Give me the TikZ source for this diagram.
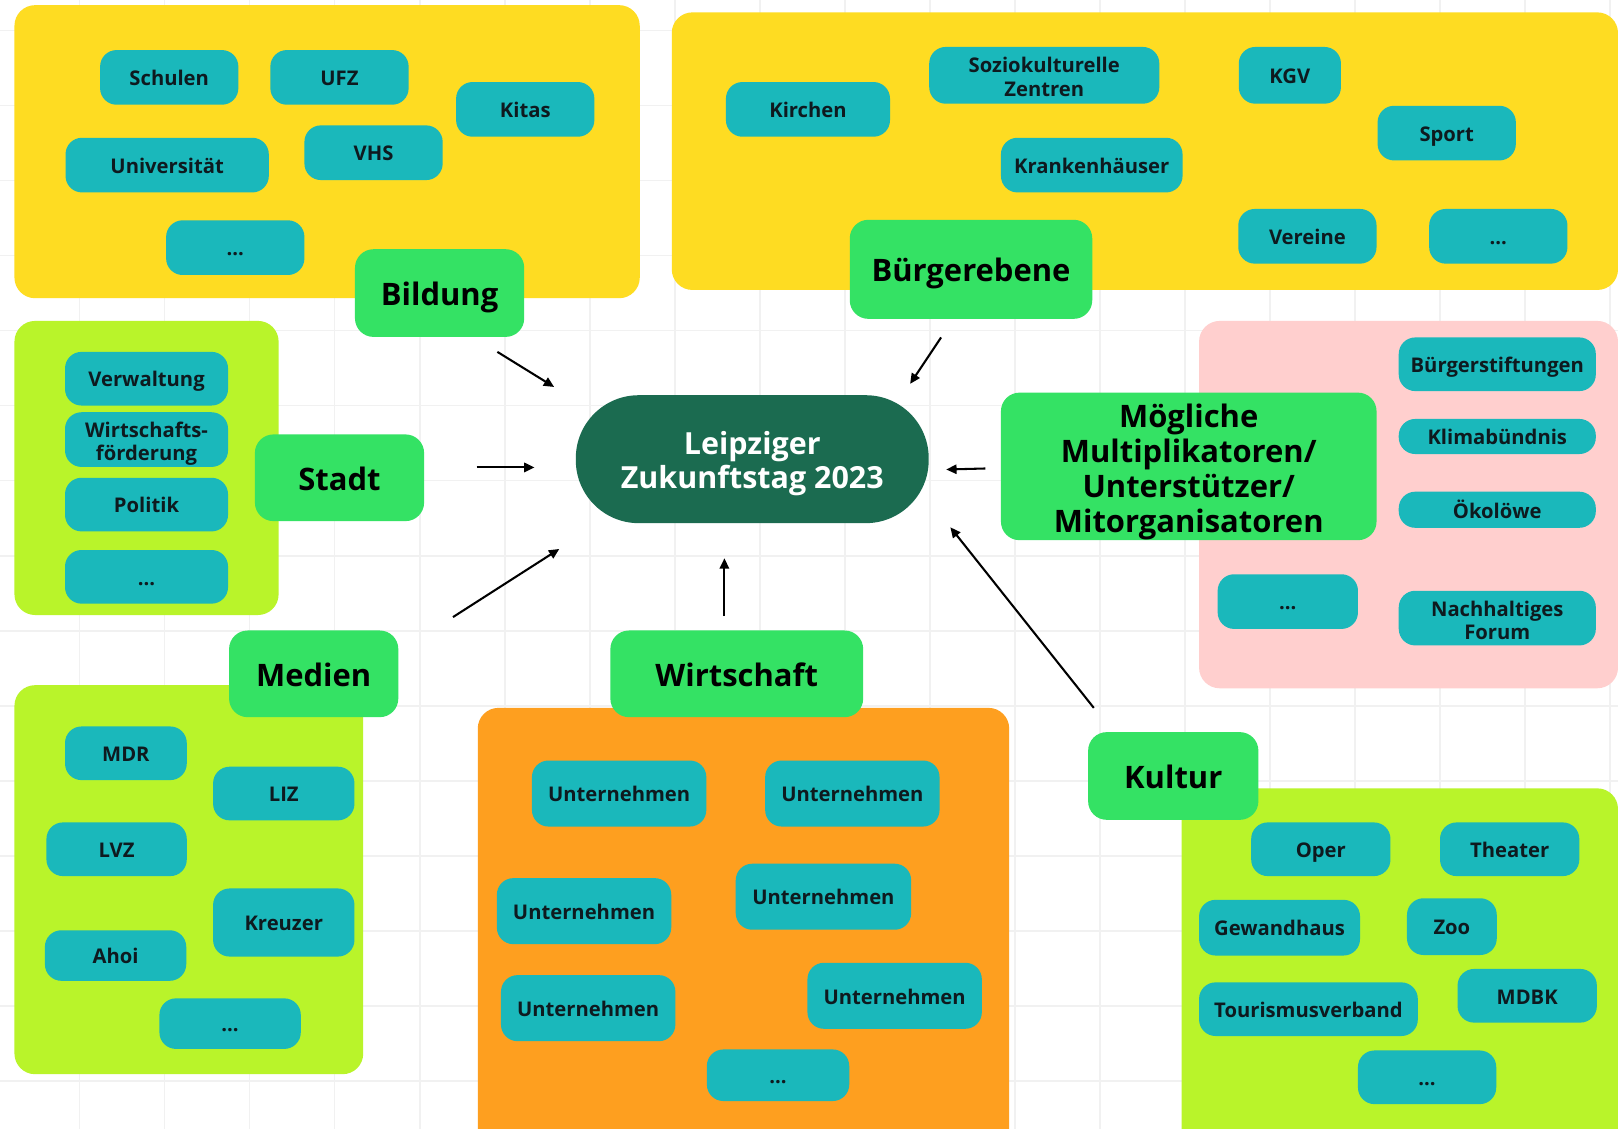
\documentclass[tikz,border=0pt]{standalone}
\usepackage{fontspec}
\setmainfont{Open Sans}
\usetikzlibrary{arrows.meta}
\definecolor{yel}{HTML}{FEDC22}
\definecolor{limebg}{HTML}{B9F42A}
\definecolor{pinkbg}{HTML}{FFCFCE}
\definecolor{orng}{HTML}{FE9F1F}
\definecolor{grn}{HTML}{34E264}
\definecolor{tealbox}{HTML}{1AB8BB}
\definecolor{dkgrn}{HTML}{1B6B50}
\definecolor{txt}{HTML}{0E1A1F}
\definecolor{gridc}{HTML}{F1F1F1}
\tikzset{
  tbox/.style={fill=tealbox, rounded corners=16pt, inner sep=0pt, align=center, text=txt,
    minimum width=134pt, minimum height=53pt, font=\bfseries\fontsize{19.6}{22.5}\selectfont},
  one/.style={text height=16pt, text depth=0pt},
  cat/.style={fill=grn, rounded corners=18pt, inner sep=0pt, align=center, text=black,
    font=\bfseries\fontsize{30}{34}\selectfont},
  catone/.style={text height=24pt, text depth=0pt},
  region/.style={rounded corners=20pt},
  conn/.style={line width=2pt, -{Triangle[length=10pt,width=9pt]}}
}
\begin{document}
\begin{tikzpicture}[x=1pt,y=-1pt]
\useasboundingbox (0,0) rectangle (1568,1094);
\clip (0,0) rectangle (1568,1094);
\fill[white] (0,0) rectangle (1568,1094);
\foreach \k in {0,...,18} \draw[gridc, line width=1.8pt] ({77+82.4*\k},0) -- ({77+82.4*\k},1094);
\foreach \k in {0,...,14} \draw[gridc, line width=1.8pt] (0,{29.5+72.7*\k}) -- (1568,{29.5+72.7*\k});

% regions
\fill[yel, region] (14,5) rectangle (620,289);
\fill[yel, region] (651,12) rectangle (1568,281);
\fill[limebg, region] (14,311) rectangle (270,596);
\fill[pinkbg, region] (1162,311) rectangle (1568,667);
\fill[limebg, region] (14,664) rectangle (352,1041);
\fill[orng, region] (463,686) rectangle (978,1130);
\fill[limebg, region] (1145,764) rectangle (1568,1130);

% centre
\node (zt) [fill=dkgrn, rounded corners=61pt, minimum width=342pt, minimum height=124pt, inner sep=0pt,
  align=center, text=white, font=\bfseries\fontsize{29.5}{33}\selectfont] at (729,445)
  {\rule{0pt}{31pt}Leipziger\\Zukunftstag 2023};

% categories
\node (bild) [cat, catone, minimum width=164pt, minimum height=85pt] at (426,284) {Bildung};
\node (buer) [cat, catone, minimum width=235pt, minimum height=96pt] at (941,261) {Bürgerebene};
\node (stadt) [cat, catone, minimum width=164pt, minimum height=84pt] at (329,463) {Stadt};
\node (moeg) [cat, minimum width=364pt, minimum height=143pt] at (1152,452)
  {\rule{0pt}{33pt}Mögliche\\Multiplikatoren/\\Unterstützer/\\Mitorganisatoren};
\node (med) [cat, catone, minimum width=164pt, minimum height=84pt] at (304,653) {Medien};
\node (wirt) [cat, catone, minimum width=245pt, minimum height=84pt] at (714,653) {Wirtschaft};
\node (kult) [cat, catone, minimum width=165pt, minimum height=85pt] at (1137,752) {Kultur};

% Bildung items
\node (schulen) [tbox, one] at (164,75) {Schulen};
\node (ufz) [tbox, one] at (329,75) {UFZ};
\node (kitas) [tbox, one] at (509,106) {Kitas};
\node (uni) [tbox, one, minimum width=197pt] at (162,160) {Universität};
\node (vhs) [tbox, one] at (362,148) {VHS};
\node (bdots) [tbox, one] at (228,240) {...};

% Buergerebene items
\node (kirchen) [tbox, one, minimum width=159pt] at (783,106) {Kirchen};
\node (sozio) [tbox, minimum width=223pt, minimum height=55pt] at (1012,73) {\rule{0pt}{18pt}Soziokulturelle\\Zentren};
\node (kgv) [tbox, one, minimum width=99pt, minimum height=55pt] at (1250,73) {KGV};
\node (sport) [tbox, one] at (1402,129) {Sport};
\node (kranken) [tbox, one, minimum width=176pt] at (1058,160) {Krankenhäuser};
\node (vereine) [tbox, one] at (1267,229) {Vereine};
\node (bedots) [tbox, one] at (1452,229) {...};

% Stadt items
\node (verw) [tbox, one, minimum width=158pt, minimum height=52pt] at (142,367) {Verwaltung};
\node (wifoe) [tbox, minimum width=158pt] at (142,426) {\rule{0pt}{23pt}Wirtschafts-\\förderung};
\node (politik) [tbox, one, minimum width=158pt, minimum height=52pt] at (142,489) {Politik};
\node (sdots) [tbox, one, minimum width=158pt, minimum height=52pt] at (142,559) {...};

% Moegliche items
\node (bstift) [tbox, one, minimum width=191pt, minimum height=52pt] at (1451,353) {Bürgerstiftungen};
\node (klima) [tbox, one, minimum width=191pt, minimum height=34pt] at (1451,423) {Klimabündnis};
\node (oeko) [tbox, one, minimum width=191pt, minimum height=35pt] at (1451,494) {Ökolöwe};
\node (mdots) [tbox, one, minimum width=136pt] at (1248,583) {...};
\node (nforum) [tbox, minimum width=191pt] at (1451,599) {\rule{0pt}{19pt}Nachhaltiges\\Forum};

% Medien items
\node (mdr) [tbox, one, minimum width=118pt, minimum height=52pt] at (122,730) {MDR};
\node (liz) [tbox, one, minimum width=137pt, minimum height=52pt] at (275,769) {LIZ};
\node (lvz) [tbox, one, minimum width=136pt, minimum height=52pt] at (113,823) {LVZ};
\node (kreuzer) [tbox, one, minimum width=137pt, minimum height=66pt] at (275,894) {Kreuzer};
\node (ahoi) [tbox, one, minimum width=137pt, minimum height=49pt] at (112,926) {Ahoi};
\node (medots) [tbox, one, minimum width=137pt, minimum height=49pt] at (223,992) {...};

% Wirtschaft items
\node (u1) [tbox, one, minimum width=169pt, minimum height=64pt] at (600,769) {Unternehmen};
\node (u2) [tbox, one, minimum width=169pt, minimum height=64pt] at (826,769) {Unternehmen};
\node (u3) [tbox, one, minimum width=169pt, minimum height=64pt] at (566,883) {Unternehmen};
\node (u4) [tbox, one, minimum width=170pt, minimum height=64pt] at (798,869) {Unternehmen};
\node (u5) [tbox, one, minimum width=169pt, minimum height=64pt] at (570,977) {Unternehmen};
\node (u6) [tbox, one, minimum width=169pt, minimum height=64pt] at (867,965) {Unternehmen};
\node (wdots) [tbox, one, minimum width=138pt, minimum height=50pt] at (754,1042) {...};

% Kultur items
\node (oper) [tbox, one, minimum width=135pt, minimum height=52pt] at (1280,823) {Oper};
\node (theater) [tbox, one, minimum width=135pt, minimum height=52pt] at (1463,823) {Theater};
\node (gewand) [tbox, one, minimum width=156pt, minimum height=54pt] at (1240,899) {Gewandhaus};
\node (zoo) [tbox, one, minimum width=87pt, minimum height=55pt] at (1407,898) {Zoo};
\node (touri) [tbox, one, minimum width=212pt, minimum height=52pt] at (1268,978) {Tourismusverband};
\node (mdbk) [tbox, one, minimum width=135pt, minimum height=52pt] at (1480,965) {MDBK};
\node (kdots) [tbox, one, minimum width=134pt, minimum height=52pt] at (1383,1044) {...};

% connector end points
\coordinate (a1) at (482,341); \coordinate (b1) at (537,375);
\coordinate (a2) at (912,327); \coordinate (b2) at (882,372);
\coordinate (a3) at (462,453); \coordinate (b3) at (518,453);
\coordinate (a4) at (955,454); \coordinate (b4) at (917,455);
\coordinate (a5) at (439,598); \coordinate (b5) at (542,532);
\coordinate (a6) at (702,597); \coordinate (b6) at (702,541);
\coordinate (a7) at (1060,686); \coordinate (b7) at (921,511);
\draw[conn] (a1) -- (b1);
\draw[conn] (a2) -- (b2);
\draw[conn] (a3) -- (b3);
\draw[conn] (a4) -- (b4);
\draw[conn] (a5) -- (b5);
\draw[conn] (a6) -- (b6);
\draw[conn] (a7) -- (b7);
\end{tikzpicture}
\end{document}
